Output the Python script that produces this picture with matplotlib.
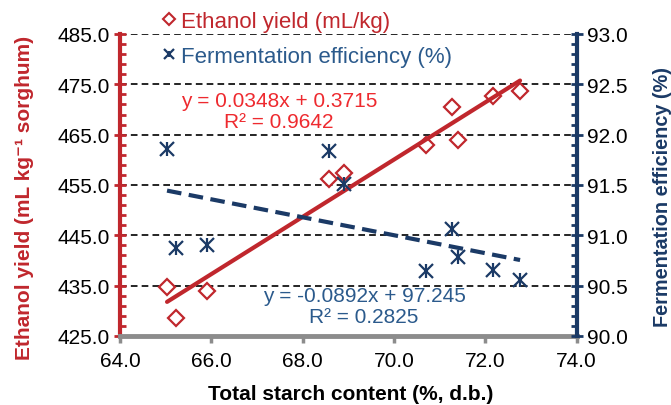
import numpy as np
import matplotlib
matplotlib.use("Agg")
import matplotlib.pyplot as plt
from matplotlib.ticker import MultipleLocator, FixedLocator, FormatStrFormatter
from matplotlib.lines import Line2D

plt.rcParams['font.family'] = ['Liberation Sans', 'DejaVu Sans']

# Data
starch = [65.03, 65.23, 65.90, 68.58, 68.90, 70.70, 71.26, 71.39, 72.16, 72.76]
ethanol = [434.8, 428.6, 433.9, 456.2, 457.3, 463.0, 470.4, 464.0, 472.6, 473.7]
ferm_eff = [91.86, 90.87, 90.90, 91.84, 91.51, 90.65, 91.06, 90.78, 90.66, 90.56]

eq_red = "y = 0.0348x + 0.3715\nR² = 0.9642"
eq_blue = "y = -0.0892x + 97.245\nR² = 0.2825"
fe_slope, fe_intercept = -0.0892, 97.245

RED = '#C0272D'
RED_TXT = '#EE2A2F'
BLUE = '#1B3A66'
BLUE_TXT = '#2B5A8C'
GRAY = '#8C8C8C'

fig = plt.figure(figsize=(6.71, 4.06), dpi=100)
ax = fig.add_axes([120/671, 1-337/406, (576.7-120)/671, (337-35)/406])
ax2 = ax.twinx()

ax.set_xlim(64, 74)
ax.set_ylim(425, 485)
ax2.set_ylim(90, 93)

# grid
for v in np.arange(435, 486, 10):
    ax.axhline(v, color='black', lw=1.2, ls=(0, (4, 2.5)), zorder=0)

# red series
x = np.array(starch)
ax.plot(x, ethanol, ls='none', marker='D', mfc='white', mec=RED, mew=1.6, ms=8.5, zorder=3)
p = np.polyfit(x, ethanol, 1)
xs = np.array([x.min(), x.max()])
ax.plot(xs, np.polyval(p, xs), color=RED, lw=3, solid_capstyle='round', zorder=4)

# blue series
ax2.plot(x, ferm_eff, ls='none', marker='x', mec=BLUE, mew=1.6, ms=9.5, zorder=3)
ax2.plot(x, ferm_eff, ls='none', marker='|', mec=BLUE, mew=1.6, ms=10.5, zorder=3)
ax2.plot(xs, fe_slope*xs + fe_intercept, color=BLUE, lw=3, ls=(0, (3.5, 1.8)), zorder=4)

# spines
for a in (ax, ax2):
    a.spines['top'].set_visible(False)
ax.spines['right'].set_visible(False)
ax2.spines['left'].set_visible(False)
ax2.spines['bottom'].set_visible(False)
ax.spines['left'].set_color(RED)
ax.spines['left'].set_linewidth(3)
ax2.spines['right'].set_color(BLUE)
ax2.spines['right'].set_linewidth(3)
ax.spines['bottom'].set_color(GRAY)
ax.spines['bottom'].set_linewidth(3.5)

# ticks
ax.xaxis.set_major_locator(MultipleLocator(2))
ax.xaxis.set_major_formatter(FormatStrFormatter('%.1f'))
ax.tick_params(axis='x', direction='out', length=5, width=2.5, color=GRAY, labelsize=15, pad=6)
ax.yaxis.set_major_locator(FixedLocator(np.arange(425, 486, 10)))
ax.yaxis.set_minor_locator(FixedLocator(np.arange(425, 486, 2)))
ax.yaxis.set_major_formatter(FormatStrFormatter('%.1f'))
ax.tick_params(axis='y', which='major', direction='inout', length=9, width=2, color=RED, labelsize=15, pad=3)
ax.tick_params(axis='y', which='minor', direction='in', length=4, width=2, color=RED)

ax2.yaxis.set_major_locator(MultipleLocator(0.5))
ax2.yaxis.set_minor_locator(MultipleLocator(0.1))
ax2.yaxis.set_major_formatter(FormatStrFormatter('%.1f'))
ax2.tick_params(axis='y', which='major', direction='inout', length=9, width=2, color=BLUE, labelsize=15, pad=3)
ax2.tick_params(axis='y', which='minor', direction='in', length=4, width=2, color=BLUE)

fig.text(351/671, 1-395/406, 'Total starch content (%, d.b.)', ha='center', va='center',
         fontsize=15, fontweight='bold')
fig.text(25/671, 1-198/406, 'Ethanol yield (mL kg⁻¹ sorghum)', ha='center', va='center',
         rotation=90, fontsize=15, fontweight='bold', color=RED)
fig.text(662/671, 1-197/406, 'Fermentation efficiency (%)', ha='center', va='center',
         rotation=90, fontsize=14.3, fontweight='bold', color=BLUE)

# equations
fig.text(279/671, 1-112/406, eq_red, ha='center', va='center',
         color=RED_TXT, fontsize=15, linespacing=1.15)
fig.text(364/671, 1-307/406, eq_blue, ha='center', va='center',
         color=BLUE_TXT, fontsize=15, linespacing=1.1)

# legend
h1 = Line2D([], [], ls='none', marker='D', mfc='white', mec=RED, mew=1.5, ms=6.5)
h2a = Line2D([], [], ls='none', marker='x', mec=BLUE, mew=1.6, ms=7)
h2b = Line2D([], [], ls='none', marker='|', mec=BLUE, mew=1.4, ms=5)
leg = fig.legend([h1, (h2a, h2b)], ['Ethanol yield (mL/kg)', 'Fermentation efficiency (%)'],
                 loc='upper left', bbox_to_anchor=(160/671, 1-12/406), frameon=False,
                 fontsize=16, handlelength=0.8, handletextpad=0.15, labelspacing=0.62,
                 borderpad=0, borderaxespad=0)
leg.get_texts()[0].set_color(RED)
leg.get_texts()[1].set_color(BLUE_TXT)

fig.savefig('out.png', dpi=100)
